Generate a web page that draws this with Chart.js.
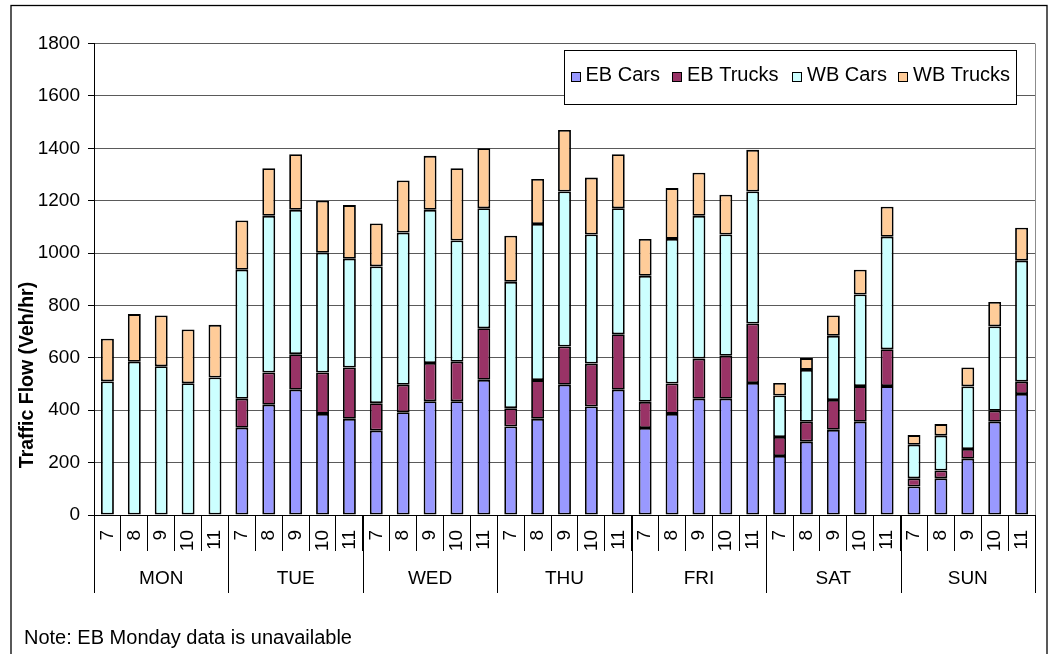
<!DOCTYPE html>
<html>
<head>
<meta charset="utf-8">
<script src="https://cdn.jsdelivr.net/npm/chart.js@4.4.1/dist/chart.umd.min.js"></script>
<style>
  html, body { margin: 0; padding: 0; background: #fff; }
  #wrap { width: 1056px; height: 654px; }
</style>
</head>
<body>
<div id="wrap"><canvas id="c" width="1056" height="654"></canvas></div>
<script>
// Day groups and the hour of day within each group
const days = ['MON', 'TUE', 'WED', 'THU', 'FRI', 'SAT', 'SUN'];
const hours = ['7', '8', '9', '10', '11'];

// Hourly volumes (veh/hr), 5 hours per day, Monday to Sunday
const ebCars   = [null, null, null, null, null,
                  333, 421, 478, 386, 367,
                  322, 392, 434, 434, 516,
                  338, 367, 497, 414, 478,
                  332, 386, 444, 444, 504,
                  225, 280, 325, 356, 492,
                  109, 140, 215, 356, 462];
const ebTrucks = [null, null, null, null, null,
                  111, 123, 136, 158, 196,
                  105, 105, 146, 151, 197,
                   70, 148, 146, 164, 212,
                  100, 116, 153, 164, 227,
                   73,  76, 114, 136, 141,
                   31,  30,  37,  42,  47];
const wbCars   = [510, 585, 568, 503, 525,
                  492, 598, 551, 457, 415,
                  522, 581, 585, 463, 458,
                  482, 596, 592, 493, 481,
                  481, 552, 545, 463, 504,
                  158, 198, 245, 350, 429,
                  128, 133, 239, 322, 462];
const wbTrucks = [163, 182, 194, 205, 201,
                  188, 182, 212, 199, 205,
                  164, 199, 206, 276, 229,
                  176, 172, 235, 217, 206,
                  141, 194, 165, 152, 159,
                   48,  45,  78,  94, 115,
                   37,  44,  72,  93, 126];
const yTicks = [0, 200, 400, 600, 800, 1000, 1200, 1400, 1600, 1800];

const axisTitle = 'Traffic Flow (Veh/hr)';
const noteText = 'Note: EB Monday data is unavailable';

const FONT = "'Liberation Sans', Arial, Helvetica, sans-serif";

const labels = days.flatMap(() => hours);

function line(ctx, x1, y1, x2, y2) {
  ctx.beginPath();
  ctx.moveTo(x1, y1);
  ctx.lineTo(x2, y2);
  ctx.stroke();
}

// Frame, day grouping row, axis title, legend box and footnote
const decorations = {
  id: 'decorations',
  beforeDraw(chart) {
    const ctx = chart.ctx;
    ctx.save();
    ctx.fillStyle = '#fff';
    ctx.fillRect(0, 0, chart.width, chart.height);
    ctx.restore();
  },
  afterDraw(chart) {
    const ctx = chart.ctx;
    const a = chart.chartArea;
    const x = chart.scales.x;
    const per = hours.length;
    const half = (x.getPixelForValue(1) - x.getPixelForValue(0)) / 2;
    ctx.save();

    // right edge of the plot area
    ctx.strokeStyle = '#8c8c8c';
    ctx.lineWidth = 1;
    line(ctx, Math.round(a.right) + 0.5, a.top, Math.round(a.right) + 0.5, a.bottom);

    // day separators spanning both label rows
    ctx.strokeStyle = '#000';
    for (let d = 0; d <= days.length; d++) {
      const px = d < days.length
        ? x.getPixelForValue(d * per) - half
        : x.getPixelForValue(days.length * per - 1) + half;
      const rx = Math.round(px) + 0.5;
      line(ctx, rx, a.bottom, rx, 593);
    }

    // day names
    ctx.fillStyle = '#000';
    ctx.font = '19px ' + FONT;
    ctx.textAlign = 'center';
    ctx.textBaseline = 'alphabetic';
    days.forEach((name, d) => {
      const cx = (x.getPixelForValue(d * per) + x.getPixelForValue(d * per + per - 1)) / 2;
      ctx.fillText(name, cx, 584);
    });

    // value axis title
    ctx.save();
    ctx.translate(27.5, 375);
    ctx.rotate(-Math.PI / 2);
    ctx.font = 'bold 19.5px ' + FONT;
    ctx.textBaseline = 'middle';
    ctx.textAlign = 'center';
    ctx.fillText(axisTitle, 0, 0);
    ctx.restore();

    // legend
    const lx = 564.5, ly = 50.5, lw = 452, lh = 54;
    ctx.fillStyle = '#fff';
    ctx.fillRect(lx, ly, lw, lh);
    ctx.strokeStyle = '#000';
    ctx.lineWidth = 1;
    ctx.strokeRect(lx, ly, lw, lh);
    ctx.font = '20px ' + FONT;
    ctx.textAlign = 'left';
    ctx.textBaseline = 'alphabetic';
    const swatchX = [571, 672, 792, 898];
    const textX = [585.5, 687, 807, 913];
    chart.data.datasets.forEach((ds, i) => {
      ctx.fillStyle = ds.backgroundColor;
      ctx.fillRect(swatchX[i] + 0.5, 72.5, 9, 9);
      ctx.strokeStyle = '#000';
      ctx.strokeRect(swatchX[i] + 0.5, 72.5, 9, 9);
      ctx.fillStyle = '#000';
      ctx.fillText(ds.label, textX[i], 80.5);
    });

    // footnote
    ctx.font = '20px ' + FONT;
    ctx.fillText(noteText, 24, 643.5);

    // outer frame
    ctx.strokeStyle = '#000';
    ctx.lineWidth = 1.3;
    ctx.strokeRect(11, 5.5, 1036, 660);
    ctx.restore();
  }
};

const seriesStyle = (label, data, color) => ({
  label, data,
  backgroundColor: color,
  borderColor: '#000',
  borderWidth: 1.8,
  borderSkipped: false,
  categoryPercentage: 1,
  barPercentage: 0.48,
  stack: 'flow'
});

new Chart(document.getElementById('c'), {
  type: 'bar',
  data: {
    labels,
    datasets: [
      seriesStyle('EB Cars', ebCars, '#9999FF'),
      seriesStyle('EB Trucks', ebTrucks, '#993366'),
      seriesStyle('WB Cars', wbCars, '#CCFFFF'),
      seriesStyle('WB Trucks', wbTrucks, '#FFCC99')
    ]
  },
  options: {
    responsive: false,
    animation: false,
    layout: { padding: { top: 43.5, right: 21, left: 11, bottom: 0 } },
    plugins: { legend: { display: false }, tooltip: { enabled: false } },
    scales: {
      x: {
        stacked: true,
        offset: true,
        afterFit(scale) { scale.height = 139; },
        border: { display: true, color: '#000', width: 1 },
        grid: { offset: true, drawOnChartArea: false, drawTicks: true, tickLength: 36, color: '#000', lineWidth: 1 },
        ticks: {
          autoSkip: false, minRotation: 90, maxRotation: 90, padding: -21,
          color: '#000', font: { family: FONT, size: 19 }
        }
      },
      y: {
        stacked: true,
        min: 0, max: 1800,
        afterFit(scale) { scale.width = 83; },
        afterBuildTicks(scale) { scale.ticks = yTicks.map(v => ({ value: v })); },
        border: { display: true, color: '#000', width: 1 },
        grid: { color: '#5a5a5a', lineWidth: 1, tickLength: 6, tickColor: '#000' },
        ticks: {
          padding: 8, color: '#000', font: { family: FONT, size: 19 },
          callback: v => String(v)
        }
      }
    }
  },
  plugins: [decorations]
});
</script>
</body>
</html>
